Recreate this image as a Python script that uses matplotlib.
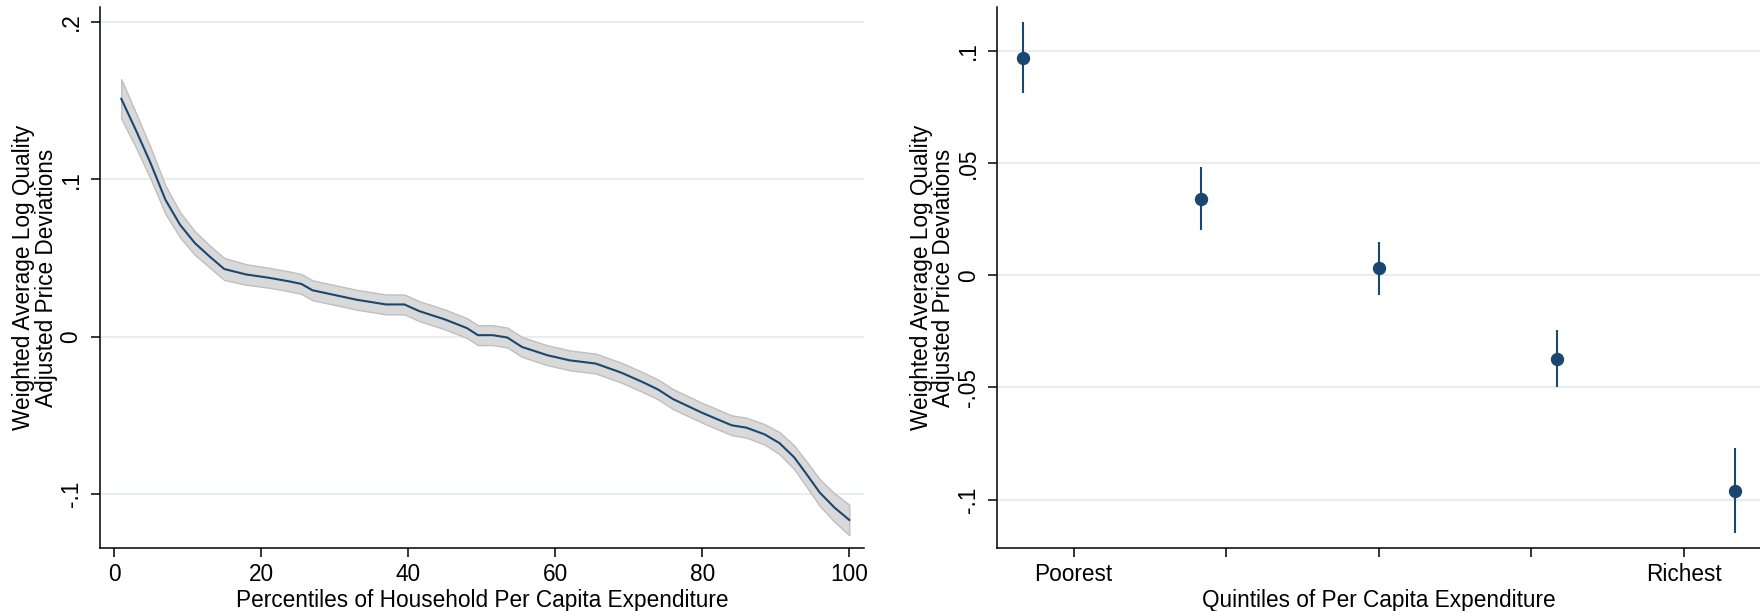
"""
Precios ajustados por calidad a lo largo de la distribución del gasto:
curva por percentil con banda de confianza y puntos por quintil.
"""

import matplotlib
matplotlib.use("Agg")
import matplotlib.pyplot as plt

plt.rcParams.update({"font.family": ["Liberation Sans", "DejaVu Sans"],
                     "font.size": 16.3, "axes.linewidth": 1.1,
                     "xtick.major.size": 6.5, "ytick.major.size": 6.5,
                     "xtick.major.width": 1.1, "ytick.major.width": 1.1})

AZUL = "#1a476f"
GRILLA = "#e6eef1"

# --- Panel izquierdo: percentiles ---
percentil = [1, 3, 5, 7, 9, 11, 13, 15, 18, 21, 24, 25.5, 27, 30, 33, 37,
             39.5, 41.5, 45, 48, 49.5, 51.5, 53.5, 55.5, 59, 62, 65.5, 69,
             72, 74, 76, 80, 84, 86, 88.5, 90.5, 92.5, 94, 96, 98, 100]
media = [0.151, 0.131, 0.110, 0.087, 0.071, 0.0595, 0.051, 0.043, 0.0395,
         0.0375, 0.035, 0.0335, 0.0295, 0.0265, 0.0235, 0.0205, 0.0205,
         0.0163, 0.011, 0.0055, 0.001, 0.001, -0.0005, -0.0065, -0.0118,
         -0.015, -0.017, -0.0228, -0.029, -0.0335, -0.0395, -0.0483, -0.0562,
         -0.0577, -0.062, -0.0675, -0.0765, -0.086, -0.099, -0.1085, -0.1163]
semi_ic = [0.0125, 0.011, 0.010, 0.009, 0.008, 0.0075, 0.007, 0.007, 0.0065,
           0.0063, 0.0063, 0.0063, 0.0063, 0.0063, 0.0063, 0.0063, 0.0063,
           0.0063, 0.0063, 0.0063, 0.0063, 0.0063, 0.0063, 0.0063, 0.0063,
           0.0063, 0.0063, 0.0063, 0.0063, 0.0063, 0.0063, 0.0063, 0.0063,
           0.0063, 0.0065, 0.007, 0.0075, 0.008, 0.0085, 0.009, 0.0097]
ticks_izq = [-0.1, 0, 0.1, 0.2]
etiq_izq = ["-.1", "0", ".1", ".2"]
ticks_x_izq = [0, 20, 40, 60, 80, 100]

# --- Panel derecho: quintiles ---
pos_quintil = [0.667, 1.833, 3.0, 4.167, 5.333]
media_q = [0.097, 0.034, 0.003, -0.0374, -0.0961]
ic_inf_q = [0.081, 0.020, -0.009, -0.050, -0.1147]
ic_sup_q = [0.113, 0.048, 0.015, -0.0244, -0.0772]
ticks_der = [-0.1, -0.05, 0, 0.05, 0.1]
etiq_der = ["-.1", "-.05", "0", ".05", ".1"]
ticks_x_der = [1, 2, 3, 4, 5]
etiq_x_der = ["Poorest", "", "", "", "Richest"]

YLABEL = "Weighted Average Log Quality\nAdjusted Price Deviations"


def estilo(ax, yticks, yetiq):
    for lado in ("top", "right"):
        ax.spines[lado].set_visible(False)
    ax.set_yticks(yticks)
    ax.set_yticklabels(yetiq, rotation=90, va="center")
    ax.tick_params(axis="y", pad=6)
    ax.tick_params(axis="x", pad=4)
    ax.yaxis.grid(True, color=GRILLA, linewidth=1.5)
    ax.xaxis.grid(False)
    ax.set_axisbelow(True)
    ax.set_ylabel(YLABEL, linespacing=0.95, labelpad=1.5)


fig = plt.figure(figsize=(17.6, 6.11), dpi=100)
a1 = fig.add_axes([0.0568, 0.1026, 0.4341, 0.8859])
a2 = fig.add_axes([0.5667, 0.1026, 0.4334, 0.8859])

inf = [m - s for m, s in zip(media, semi_ic)]
sup = [m + s for m, s in zip(media, semi_ic)]
a1.fill_between(percentil, inf, sup, facecolor="#d9d9d9",
                edgecolor="#bfbfbf", linewidth=1.0, zorder=2)
a1.plot(percentil, media, color=AZUL, linewidth=1.5, zorder=3)
a1.set_xlim(-1.9, 102)
a1.set_ylim(-0.1343, 0.2093)
a1.set_xticks(ticks_x_izq)
estilo(a1, ticks_izq, etiq_izq)
a1.set_xlabel("Percentiles of Household Per Capita Expenditure", labelpad=2)

err = [[m - lo for m, lo in zip(media_q, ic_inf_q)],
       [hi - m for m, hi in zip(media_q, ic_sup_q)]]
a2.errorbar(pos_quintil, media_q, yerr=err, fmt="o", color=AZUL,
            markersize=8.6, elinewidth=1.5, capsize=0, zorder=3)
a2.set_xlim(0.5, 5.5)
a2.set_ylim(-0.1217, 0.1195)
a2.set_xticks(ticks_x_der)
a2.set_xticklabels(etiq_x_der)
estilo(a2, ticks_der, etiq_der)
a2.set_xlabel("Quintiles of Per Capita Expenditure", labelpad=2)

fig.savefig("out.png", dpi=100)
